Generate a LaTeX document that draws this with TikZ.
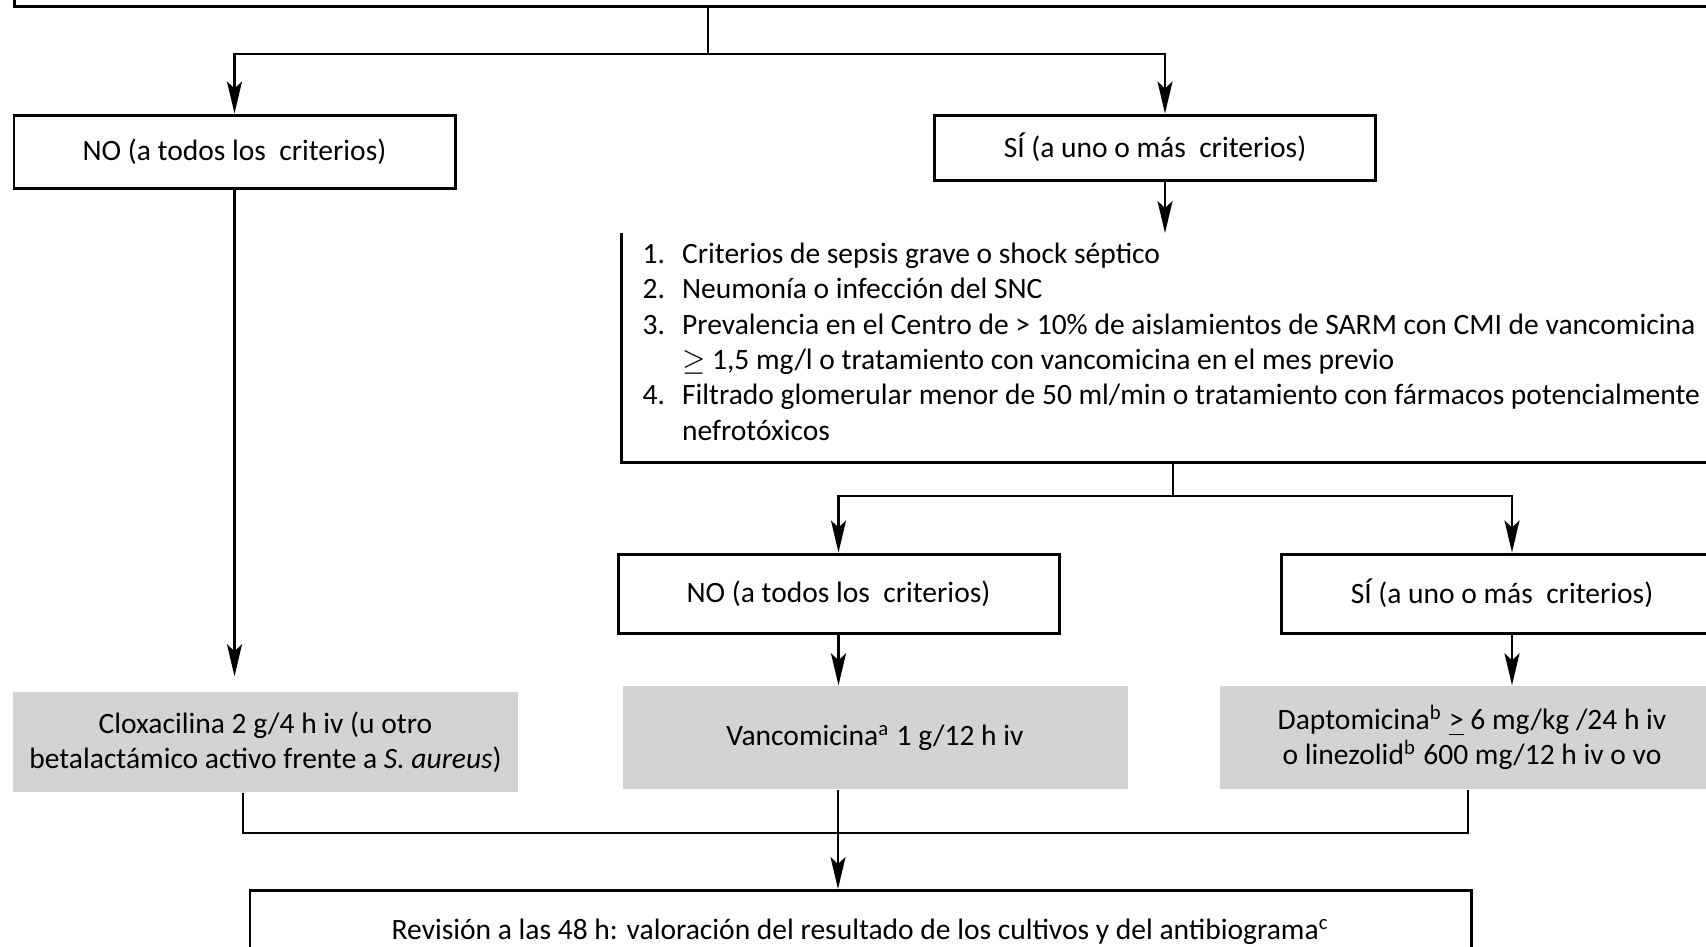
\documentclass[tikz,border=0pt]{standalone}
\usepackage{fontspec}
\setmainfont{Carlito}
\usetikzlibrary{arrows.meta,positioning}

\definecolor{boxgray}{RGB}{209,211,212}

\tikzset{
    every node/.style={font=\fontsize{8.4pt}{10.1pt}\selectfont},
    answer/.style={draw, line width=0.85pt, minimum width=4.41cm, align=center},
    drug/.style={fill=boxgray, minimum width=5.05cm, minimum height=1.03cm, align=center},
    outline/.style={draw, line width=0.85pt},
    conn/.style={line width=0.7pt},
    arr/.style={conn, -{Stealth[length=3.2mm, width=1.5mm, inset=0.7mm]}}
}

\begin{document}
\begin{tikzpicture}
    \useasboundingbox (0,0) rectangle (17.06,-9.46);
    \clip (0,0) rectangle (17.06,-9.46);

    % Top box (cut off)
    \node[outline, anchor=south west, minimum width=18cm, minimum height=1cm] (top) at (0.13,-0.08) {};

    % First answer
    \node[answer, minimum height=0.73cm] (no1) at (2.345,-1.515) {NO (a todos los~ criterios)};
    \node[answer, minimum height=0.65cm] (si1) at (11.55,-1.475) {SÍ (a uno o más~ criterios)};

    % Criteria
    \node[anchor=north west, minimum width=12cm, minimum height=2.28cm] (critbox) at (6.21,-2.33) {};
    \node[anchor=base west, inner sep=0pt] (critlist) at (6.42,-2.63) {%
        \renewcommand{\arraystretch}{1}%
        \begin{tabular}[t]{@{}l@{\hspace{1.7mm}}l@{}}
        1. & Criterios de sepsis grave o shock séptico\\
        2. & Neumonía o infección del SNC\\
        3. & Prevalencia en el Centro de > 10\% de aislamientos de SARM con CMI de vancomicina\\
           & $\geq$ 1,5 mg/l o tratamiento con vancomicina en el mes previo\\
        4. & Filtrado glomerular menor de 50 ml/min o tratamiento con fármacos potencialmente\\
           & nefrotóxicos
        \end{tabular}};
    \draw[outline] (critbox.north west) -- (critbox.south west) -- (critbox.south east);

    % Second answer
    \node[answer, minimum height=0.79cm] (no2) at (8.385,-5.935) {NO (a todos los~ criterios)};
    \node[answer, minimum height=0.79cm] (si2) at (15.02,-5.935) {SÍ (a uno o más~ criterios)};

    % Treatments
    \node[drug, minimum height=1.0cm] (cloxa) at (2.655,-7.42) {Cloxacilina 2 g/4 h iv (u otro\\betalactámico activo frente a \textit{S. aureus})};
    \node[drug] (vanc) at (8.75,-7.375) {Vancomicina\textsuperscript{a} 1 g/12 h iv};
    \node[drug] (dapto) at (14.72,-7.375) {Daptomicina\textsuperscript{b} \underline{>} 6 mg/kg /24 h iv\\o linezolid\textsuperscript{b} 600 mg/12 h iv o vo};

    % Review
    \node[outline, anchor=north, minimum width=12.21cm, minimum height=0.82cm] (review) at (8.605,-8.89) {Revisión a las 48 h: valoración del resultado de los cultivos y del antibiograma\textsuperscript{c}};

    % Edges
    \coordinate (j1) at (7.08,-0.54);
    \coordinate (j2) at (11.73,-4.96);
    \coordinate (j3) at (8.38,-8.33);

    \draw[conn] (top.south -| j1) -- (j1);
    \draw[arr] (j1) -| (no1.north);
    \draw[arr] (j1) -| ([xshift=0.1cm]si1.north);

    \draw[arr] ([xshift=0.1cm]si1.south) -- ([xshift=0.1cm]si1.south |- critbox.north);
    \draw[arr] (no1.south) -- ([yshift=0.15cm]no1.south |- cloxa.north);

    \draw[conn] (critbox.south -| j2) -- (j2);
    \draw[arr] (j2) -| (no2.north);
    \draw[arr] (j2) -| ([xshift=0.1cm]si2.north);

    \draw[arr] (no2.south) -- (no2.south |- vanc.north);
    \draw[arr] ([xshift=0.1cm]si2.south) -- ([xshift=0.1cm]si2.south |- dapto.north);

    \draw[conn] ([xshift=-0.225cm]cloxa.south) |- (j3);
    \draw[conn] ([xshift=-0.04cm]dapto.south) |- (j3);
    \draw[conn] (vanc.south -| j3) -- (j3);
    \draw[arr] (j3) -- (j3 |- review.north);
\end{tikzpicture}
\end{document}
